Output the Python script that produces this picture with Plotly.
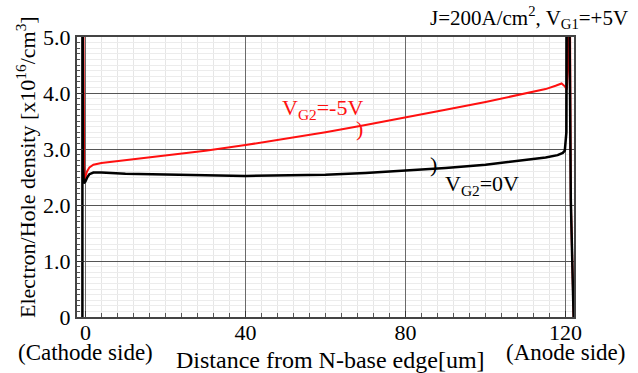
import plotly.graph_objects as go

# ---- data (x in um, density in 1e16 /cm^3) ----
x_vg2_0 = [-0.75, -0.75, -0.6, -0.4, 0.0, 0.5, 1.0, 2.0, 4.0, 10, 20, 30, 40, 50, 60, 70, 80,
           90, 100, 110, 115, 118, 119.3, 119.8, 120.2, 120.45, 120.6, 121.3, 122.0]
y_vg2_0 = [0.0, 9.0, 2.7, 2.39, 2.42, 2.5, 2.55, 2.58, 2.58, 2.56, 2.54, 2.53, 2.52, 2.53, 2.54, 2.57, 2.61,
           2.66, 2.72, 2.8, 2.85, 2.89, 2.93, 2.97, 3.3, 9.0, 9.0, 2.1, 0.0]

x_vg2_m5 = [-0.75, -0.5, -0.3, 0.0, 0.4, 1.0, 2.0, 4.0, 10, 20, 30, 40, 50, 60, 70, 80, 90,
            100, 110, 115, 117.5, 119.0, 119.8, 120.3, 120.6, 120.85, 120.9, 121.3, 122.0]
y_vg2_m5 = [9.0, 3.0, 2.45, 2.5, 2.6, 2.67, 2.72, 2.75, 2.8, 2.88, 2.97, 3.07, 3.18, 3.3, 3.43, 3.56, 3.7,
            3.84, 3.99, 4.07, 4.13, 4.17, 4.12, 4.06, 4.4, 9.0, 9.0, 2.1, 0.0]

x_tickvals = [0, 40, 80, 120]
x_ticktext = ["0", "40", "80", "120"]
y_tickvals = [0, 1, 2, 3, 4, 5]
y_ticktext = ["0", "1.0", "2.0", "3.0", "4.0", "5.0"]

FONT = "Liberation Serif, Times New Roman, serif"
RED = "#ff1010"

fig = go.Figure()
fig.add_trace(go.Scatter(x=x_vg2_m5, y=y_vg2_m5, mode="lines",
                         line=dict(color=RED, width=2), showlegend=False))
fig.add_trace(go.Scatter(x=x_vg2_0, y=y_vg2_0, mode="lines",
                         line=dict(color="#000000", width=2.5), showlegend=False))

fig.update_layout(
    width=638, height=373,
    margin=dict(l=77, r=64, t=37, b=56),
    paper_bgcolor="white", plot_bgcolor="white",
    font=dict(family=FONT, size=22, color="black"),
)

fig.update_xaxes(
    range=[-2.1, 122.1], tickvals=x_tickvals, ticktext=x_ticktext,
    tickfont=dict(family=FONT, size=22), ticklabelstandoff=-5,
    showgrid=True, gridcolor="#6a6a6a", gridwidth=1,
    ticks="inside", ticklen=6, tickcolor="#333",
    minor=dict(dtick=4, showgrid=True, gridcolor="#e6e6e6", ticks="inside", ticklen=4, tickcolor="#555"),
    showline=True, linecolor="#444", linewidth=2, mirror=True, zeroline=False,
)
fig.update_yaxes(
    range=[0, 5], tickvals=y_tickvals, ticktext=y_ticktext,
    tickfont=dict(family=FONT, size=22),
    showgrid=True, gridcolor="#555555", gridwidth=1,
    ticks="inside", ticklen=6, tickcolor="#333",
    minor=dict(dtick=0.1, showgrid=True, gridcolor="#ececec", ticks="inside", ticklen=3, tickcolor="#555"),
    showline=True, linecolor="#444", linewidth=2, mirror=True, zeroline=False,
)

annotations = [
    dict(text="Electron/Hole density [x10<sup>16</sup>/cm<sup>3</sup>]", xref="paper", yref="paper",
         x=(26 - 77) / 497, y=(317 - 167) / 280, textangle=-90, showarrow=False, font=dict(size=22),
         xanchor="center", yanchor="middle"),
    dict(text="Distance from N-base edge[um]", xref="paper", yref="paper",
         x=(330 - 77) / 497, y=(317 - 360) / 280, showarrow=False, font=dict(size=24),
         xanchor="center", yanchor="middle"),
    dict(text="(Cathode side)", xref="paper", yref="paper",
         x=(85 - 77) / 497, y=(317 - 352) / 280, showarrow=False, font=dict(size=23),
         xanchor="center", yanchor="middle"),
    dict(text="(Anode side)", xref="paper", yref="paper",
         x=(565 - 77) / 497, y=(317 - 352) / 280, showarrow=False, font=dict(size=23),
         xanchor="center", yanchor="middle"),
    dict(text="J=200A/cm<sup>2</sup>, V<sub>G1</sub>=+5V", xref="paper", yref="paper",
         x=(630 - 77) / 497, y=(317 - 17) / 280, showarrow=False, font=dict(size=21),
         xanchor="right", yanchor="middle"),
    dict(text="V<sub>G2</sub>=-5V", x=69.8, y=3.72, xref="x", yref="y", showarrow=False,
         font=dict(size=22, color=RED), xanchor="right", yanchor="middle"),
    dict(text=")", x=68.5, y=3.37, xref="x", yref="y", showarrow=False,
         font=dict(size=22, color=RED), xanchor="center", yanchor="middle"),
    dict(text="V<sub>G2</sub>=0V", x=89.3, y=2.36, xref="x", yref="y", showarrow=False,
         font=dict(size=22, color="#000000"), xanchor="left", yanchor="middle"),
    dict(text=")", x=87.0, y=2.73, xref="x", yref="y", showarrow=False,
         font=dict(size=22, color="#000000"), xanchor="center", yanchor="middle"),
]
fig.update_layout(annotations=annotations)

fig.write_html("out.html")
